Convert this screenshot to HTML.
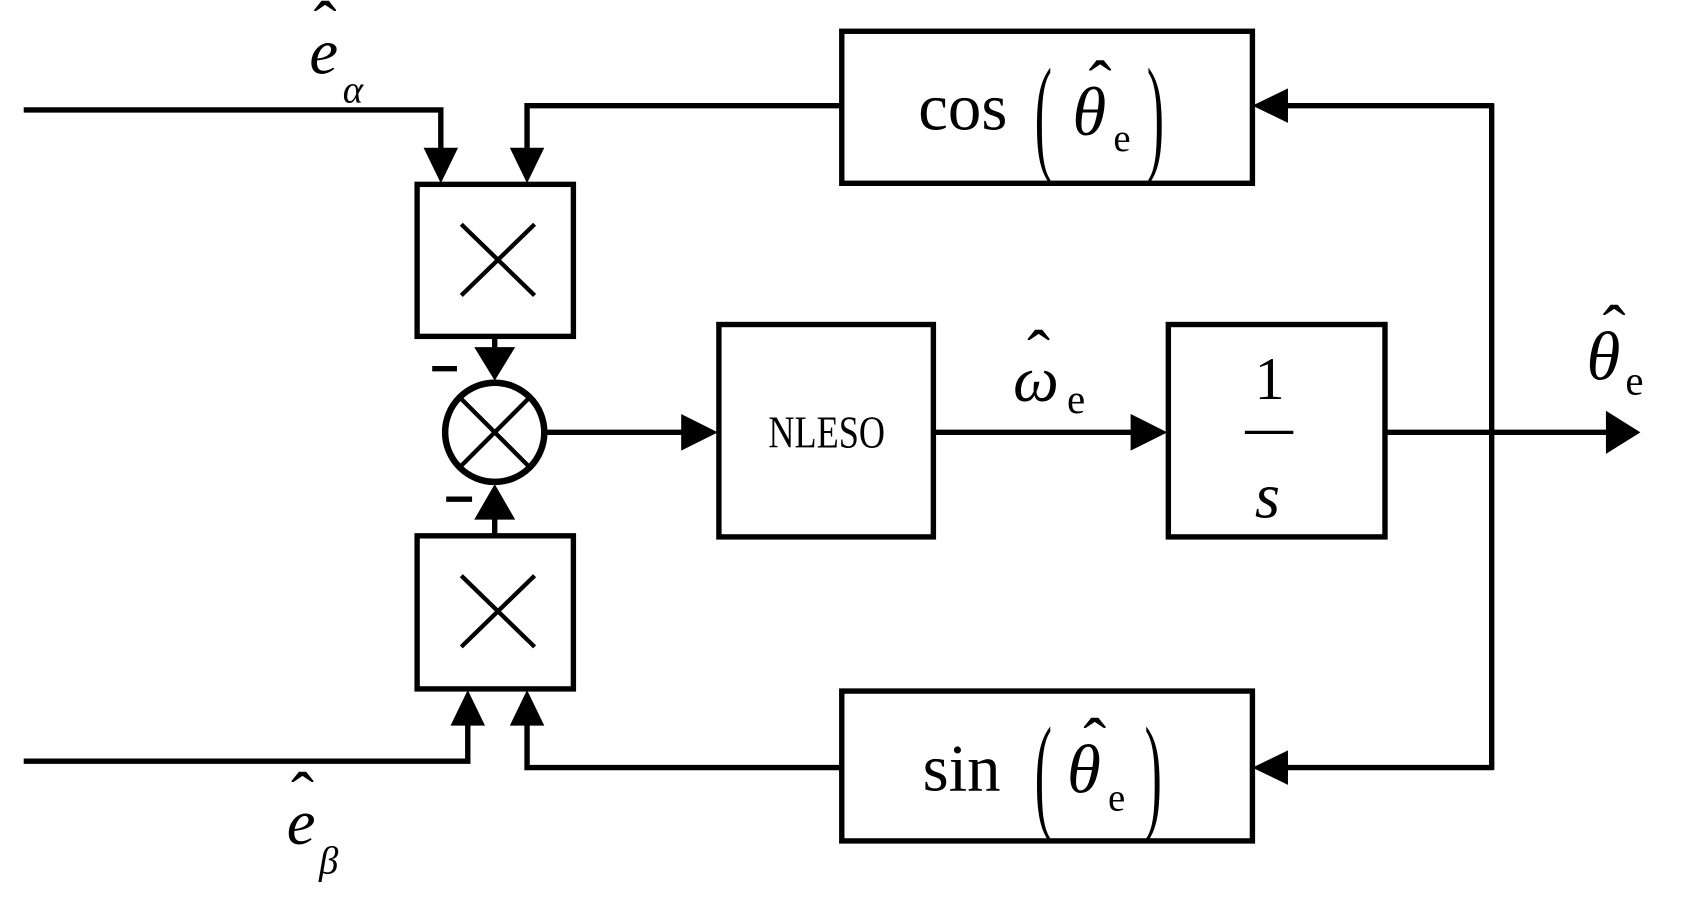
<!DOCTYPE html>
<html><head><style>html,body{margin:0;padding:0;background:#fff;}svg{display:block}text{font-family:"Liberation Serif","DejaVu Serif",serif;}</style></head>
<body>
<svg width="1690" height="911" viewBox="0 0 1568 845" preserveAspectRatio="none" xmlns="http://www.w3.org/2000/svg">
<g fill="none" stroke="#000" stroke-width="5">
<rect x="781" y="29" width="381" height="141"/>
<rect x="781" y="641" width="381" height="139"/>
<rect x="387" y="171" width="145" height="141"/>
<rect x="387" y="497" width="145" height="142"/>
<rect x="667" y="301" width="199" height="197"/>
<rect x="1084" y="301" width="201" height="197"/>
<circle cx="459" cy="401" r="46" stroke-width="6"/>
<line x1="426" y1="368" x2="492" y2="434" stroke-width="4"/>
<line x1="492" y1="368" x2="426" y2="434" stroke-width="4"/>
<line x1="428" y1="208" x2="496" y2="274" stroke-width="4"/>
<line x1="496" y1="208" x2="428" y2="274" stroke-width="4"/>
<line x1="428" y1="534" x2="496" y2="600" stroke-width="4"/>
<line x1="496" y1="534" x2="428" y2="600" stroke-width="4"/>
<polyline points="1384,96 1384,714"/>
<polyline points="1386,98 1190,98"/>
<polyline points="1386,712 1190,712"/>
<polyline points="780,98 489,98 489,145"/>
<polyline points="22,102 409,102 409,145"/>
<polyline points="22,706 434,706 434,665"/>
<polyline points="780,712 489,712 489,665"/>
<line x1="459" y1="312" x2="459" y2="330"/>
<line x1="459" y1="496" x2="459" y2="475"/>
<line x1="507" y1="401" x2="640" y2="401"/>
<line x1="866" y1="401" x2="1056" y2="401"/>
<line x1="1285" y1="401" x2="1495" y2="401"/>
<line x1="1155" y1="401" x2="1200" y2="401" stroke-width="3"/>
<line x1="401" y1="342" x2="424" y2="342" stroke-width="5"/>
<line x1="414" y1="463" x2="438" y2="463" stroke-width="5"/>
</g>
<g fill="#000">
<polygon points="1162,98 1195,82 1195,114"/>
<polygon points="1162,712 1195,696 1195,728"/>
<polygon points="489,170 473,137 505,137"/>
<polygon points="409,170 393,137 425,137"/>
<polygon points="434,640 418,673 450,673"/>
<polygon points="489,640 473,673 505,673"/>
<polygon points="459,353 440,322 478,322"/>
<polygon points="459,449 440,482 478,482"/>
<polygon points="666,401 632,384 632,418"/>
<polygon points="1083,401 1049,384 1049,418"/>
<polygon points="1522,401 1490,381 1490,421"/>
</g>
<g fill="#000">
<text x="852" y="120" font-size="62">cos</text>
<text x="960" y="146" font-size="120" transform="translate(960,0) scale(0.4,1) translate(-960,0)">(</text>
<text x="995" y="125" font-size="64" font-style="italic">θ</text>
<text x="1010" y="100" font-size="64">ˆ</text>
<text x="1033" y="140" font-size="36">e</text>
<text x="1064" y="146" font-size="120" transform="translate(1064,0) scale(0.4,1) translate(-1064,0)">)</text>

<text x="856" y="733" font-size="62">sin</text>
<text x="960" y="757" font-size="120" transform="translate(960,0) scale(0.4,1) translate(-960,0)">(</text>
<text x="990" y="735" font-size="64" font-style="italic">θ</text>
<text x="1005" y="710" font-size="64">ˆ</text>
<text x="1028" y="752" font-size="36">e</text>
<text x="1062" y="757" font-size="120" transform="translate(1062,0) scale(0.4,1) translate(-1062,0)">)</text>

<text x="767" y="415" font-size="42" text-anchor="middle" transform="translate(767,0) scale(0.8,1) translate(-767,0)">NLESO</text>
<text x="1178" y="370" font-size="56" text-anchor="middle">1</text>
<text x="1176" y="480" font-size="60" font-style="italic" text-anchor="middle">s</text>

<text x="940" y="372" font-size="60" font-style="italic">ω</text>
<text x="953" y="350" font-size="64">ˆ</text>
<text x="990" y="383" font-size="38">e</text>

<text x="1472" y="352" font-size="64" font-style="italic">θ</text>
<text x="1487" y="327" font-size="64">ˆ</text>
<text x="1508" y="366" font-size="38">e</text>

<text x="287" y="68" font-size="60" font-style="italic">e</text>
<text x="291" y="45" font-size="64">ˆ</text>
<text x="318" y="95" font-size="36" font-style="italic">α</text>

<text x="266" y="783" font-size="60" font-style="italic">e</text>
<text x="270" y="760" font-size="64">ˆ</text>
<text x="296" y="810" font-size="36" font-style="italic">β</text>
</g>
</svg>
</body></html>
